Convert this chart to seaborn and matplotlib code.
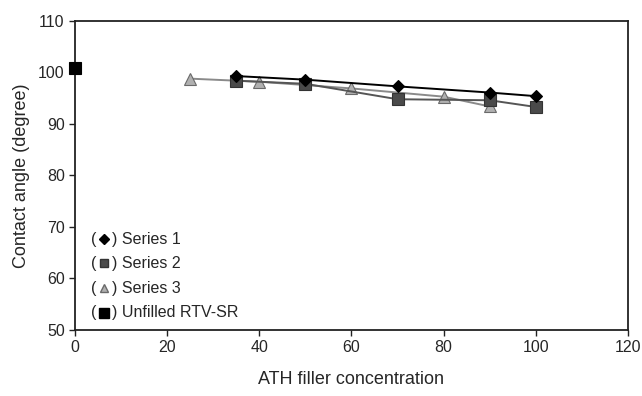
import numpy as np
import pandas as pd
import seaborn as sns
import matplotlib.pyplot as plt

# values
s1_x = [35, 50, 70, 90, 100]
s1_y = [99.3, 98.6, 97.3, 96.1, 95.4]
s2_x = [35, 50, 70, 90, 100]
s2_y = [98.4, 97.8, 94.8, 94.6, 93.3]
s3_x = [25, 40, 60, 80, 90]
s3_y = [98.8, 98.2, 96.9, 95.3, 93.4]
unfilled_x = [0]
unfilled_y = [100.8]

series_names = ['Series 1', 'Series 2', 'Series 3', 'Unfilled RTV-SR']

df = pd.concat([
    pd.DataFrame({'conc': s1_x, 'angle': s1_y, 'series': 'Series 1'}),
    pd.DataFrame({'conc': s2_x, 'angle': s2_y, 'series': 'Series 2'}),
    pd.DataFrame({'conc': s3_x, 'angle': s3_y, 'series': 'Series 3'}),
    pd.DataFrame({'conc': unfilled_x, 'angle': unfilled_y, 'series': 'Unfilled RTV-SR'}),
])

sns.set_style('ticks')
plt.rcParams['font.family'] = ['Liberation Sans', 'DejaVu Sans']

styles = {
    'Series 1': dict(marker='D', ms=6, color='black', mfc='black', mec='black', lw=1.4),
    'Series 2': dict(marker='s', ms=8, color='#555555', mfc='#4a4a4a', mec='#333333', lw=1.4),
    'Series 3': dict(marker='^', ms=8, color='#8a8a8a', mfc='#b0b0b0', mec='#6a6a6a', lw=1.4),
    'Unfilled RTV-SR': dict(marker='s', ms=9, color='black', mfc='black', mec='black', lw=0),
}

fig, ax = plt.subplots(figsize=(6.42, 3.96), dpi=100)
fig.subplots_adjust(left=0.117, right=0.978, top=0.947, bottom=0.167)

for name in ['Series 3', 'Series 2', 'Series 1', 'Unfilled RTV-SR']:
    st = styles[name]
    sub = df[df['series'] == name]
    sns.lineplot(data=sub, x='conc', y='angle', ax=ax, color=st['color'],
                 linewidth=st['lw'], marker=st['marker'], markersize=st['ms'],
                 markerfacecolor=st['mfc'], markeredgecolor=st['mec'],
                 markeredgewidth=0.8, legend=False, clip_on=False, zorder=3)

ax.set_xlim(0, 120)
ax.set_ylim(50, 110)
ax.set_xticks(np.arange(0, 121, 20))
ax.set_yticks(np.arange(50, 111, 10))
ax.tick_params(axis='both', labelsize=11.5, length=4, width=1, direction='out', color='#222222')
for sp in ax.spines.values():
    sp.set_linewidth(1.3)
    sp.set_color('#222222')
ax.set_xlabel('ATH filler concentration', fontsize=13, labelpad=11)
ax.set_ylabel('Contact angle (degree)', fontsize=13, labelpad=6)

# legend drawn like the original "(marker) label" rows
row_y = [0.294, 0.216, 0.135, 0.055]
for yy, name in zip(row_y, series_names):
    st = styles[name]
    ax.text(0.029, yy, '(', transform=ax.transAxes, fontsize=11.5, va='center', ha='left')
    ax.plot([0.052], [yy], transform=ax.transAxes, marker=st['marker'],
            ms=st['ms'] * 0.8, mfc=st['mfc'], mec=st['mec'], ls='none', clip_on=False)
    ax.text(0.066, yy, ') ' + name, transform=ax.transAxes, fontsize=11.5, va='center', ha='left')

fig.savefig('out.png', dpi=100)
